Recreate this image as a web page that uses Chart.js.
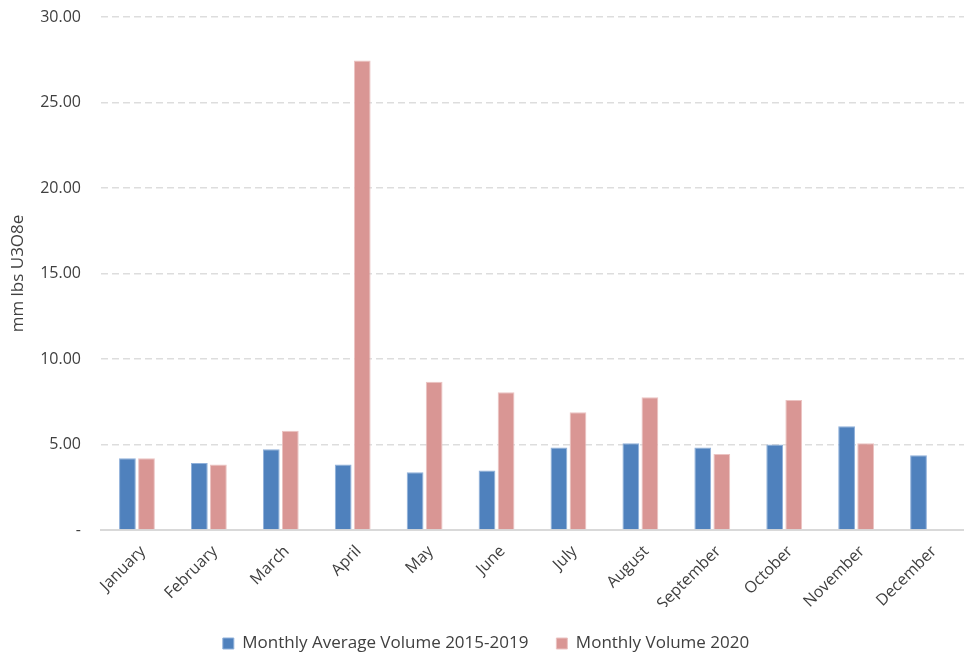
<!DOCTYPE html>
<html>
<head>
<meta charset="utf-8">
<script src="https://cdn.jsdelivr.net/npm/chart.js@4"></script>
<style>
html,body{margin:0;padding:0;background:#fff;}
#wrap{width:964px;height:660px;position:relative;}
</style>
</head>
<body>
<div id="wrap"><canvas id="c" width="964" height="660"></canvas></div>
<script>
const months = ["January","February","March","April","May","June","July","August","September","October","November","December"];
const avg2015_2019 = [4.20, 3.92, 4.72, 3.83, 3.38, 3.48, 4.82, 5.07, 4.82, 5.00, 6.06, 4.37];
const vol2020 = [4.20, 3.83, 5.81, 27.45, 8.67, 8.05, 6.88, 7.77, 4.45, 7.60, 5.07, null];
const seriesNames = ["Monthly Average Volume 2015-2019", "Monthly Volume 2020"];
const yTicks = [0, 5, 10, 15, 20, 25, 30];

const FONT = "'Open Sans', Lato, sans-serif";
const TXT = "#404040";

const legendHeightPlugin = {
  id: 'legendHeight',
  beforeInit(chart) {
    const orig = chart.legend.fit;
    chart.legend.fit = function () { orig.call(this); this.height = 53; };
  }
};

new Chart(document.getElementById('c'), {
  type: 'bar',
  plugins: [legendHeightPlugin],
  data: {
    labels: months,
    datasets: [
      { label: seriesNames[0], data: avg2015_2019, backgroundColor: '#4F81BD', borderColor: '#8FB0DA', borderWidth: 1,
        categoryPercentage: 0.53, barPercentage: 0.88 },
      { label: seriesNames[1], data: vol2020, backgroundColor: '#D99694', borderColor: '#EBC3C2', borderWidth: 1,
        categoryPercentage: 0.53, barPercentage: 0.88 }
    ]
  },
  options: {
    responsive: false,
    animation: false,
    devicePixelRatio: 1,
    layout: { padding: { top: 17, right: 0, left: 8, bottom: 0 } },
    plugins: {
      legend: {
        position: 'bottom',
        labels: { font: { family: FONT, size: 17 }, color: TXT, boxWidth: 11, boxHeight: 11, padding: 28 }
      },
      tooltip: { enabled: false }
    },
    scales: {
      x: {
        grid: { display: false },
        border: { display: true, color: '#D9D9D9', width: 2 },
        afterFit: (s) => { s.height = 77; s.paddingLeft = 0; s.paddingRight = 0; },
        ticks: { font: { family: FONT, size: 16 }, color: TXT, maxRotation: 45, minRotation: 45, padding: 4, labelOffset: 6 }
      },
      y: {
        min: 0, max: 30,
        afterBuildTicks: (s) => { s.ticks = yTicks.map(v => ({ value: v })); },
        afterFit: (s) => { s.width = 93; s.paddingTop = 0; s.paddingBottom = 0; },
        grid: { color: (ctx) => ctx.tick && ctx.tick.value === 0 ? 'rgba(0,0,0,0)' : '#DDDDDD', lineWidth: 1.5, drawTicks: false },
        border: { display: false, dash: [7, 4] },
        ticks: {
          font: { family: FONT, size: 16 }, color: TXT, padding: 20,
          callback: (v) => v === 0 ? '-' : Number(v).toFixed(2)
        },
        title: { display: true, text: 'mm lbs U3O8e', font: { family: FONT, size: 17 }, color: TXT, padding: 0 }
      }
    }
  }
});
</script>
</body>
</html>
